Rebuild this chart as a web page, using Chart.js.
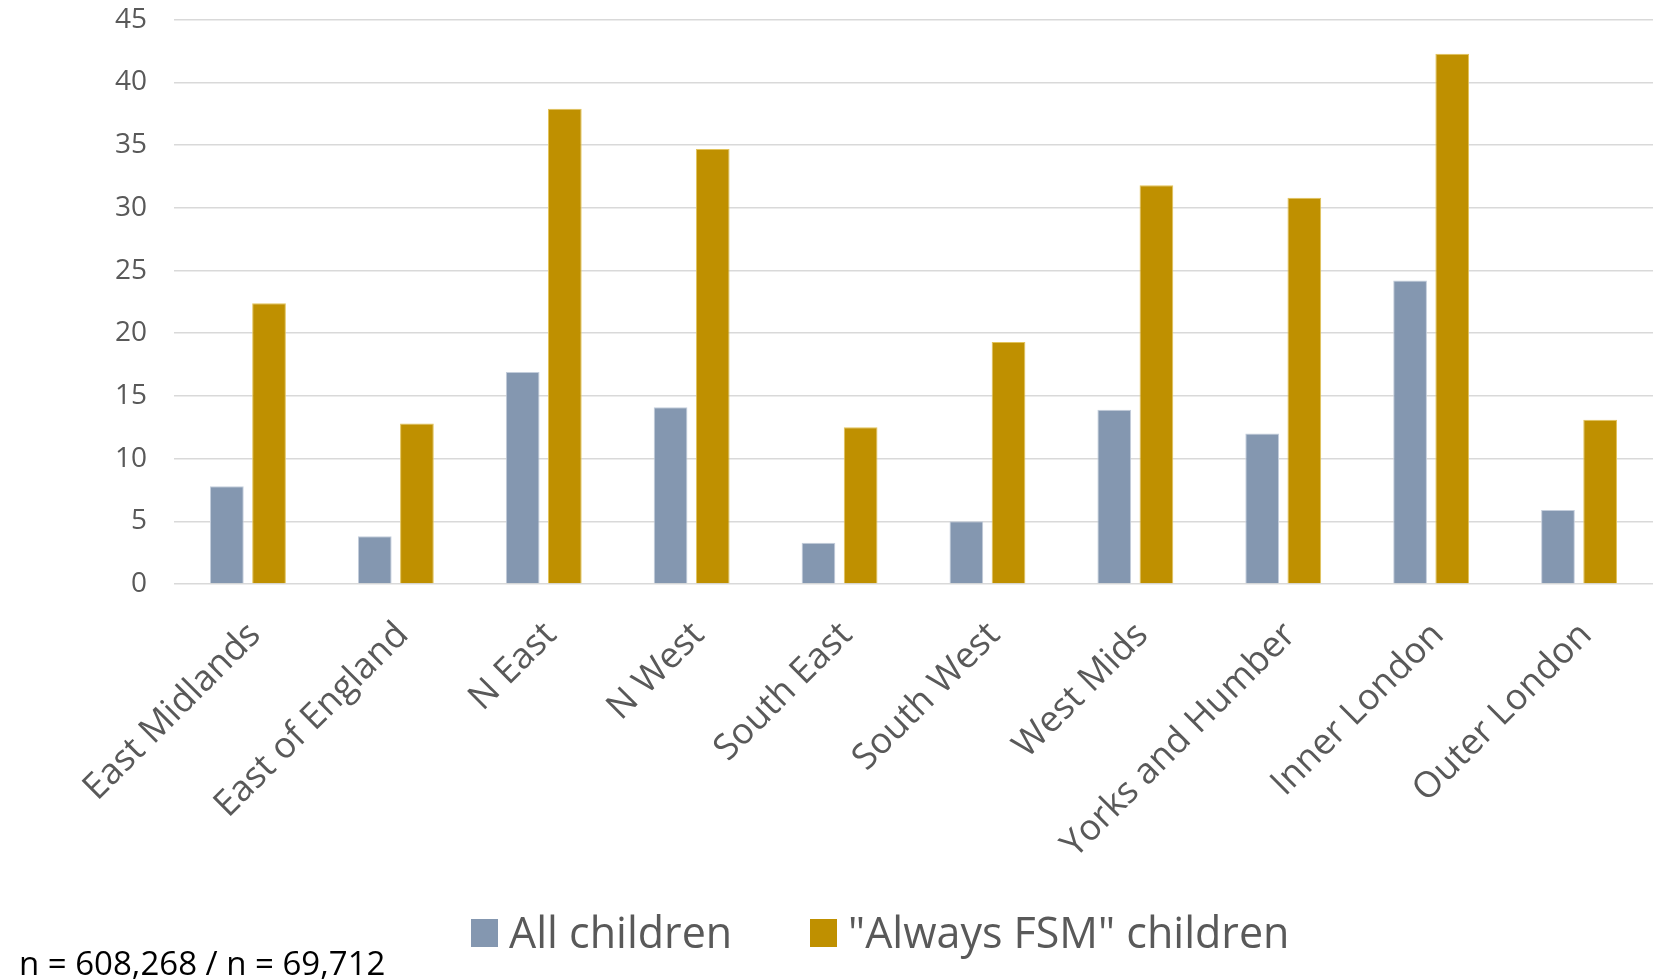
<!DOCTYPE html>
<html>
<head>
<meta charset="utf-8">
<script src="https://cdn.jsdelivr.net/npm/chart.js@4.4.1/dist/chart.umd.min.js"></script>
<style>
  html, body { margin: 0; padding: 0; background: #ffffff; }
  #wrap { width: 1653px; height: 980px; position: relative; }
</style>
</head>
<body>
<div id="wrap"><canvas id="chart" width="1653" height="980"></canvas></div>
<script>
// Regions of England
const regions = [
  'East Midlands', 'East of England', 'N East', 'N West', 'South East',
  'South West', 'West Mids', 'Yorks and Humber', 'Inner London', 'Outer London'
];

// Percentages per region
const allChildren = [7.8, 3.8, 16.9, 14.1, 3.3, 5.0, 13.9, 12.0, 24.2, 5.9];
const alwaysFsm   = [22.4, 12.8, 37.9, 34.7, 12.5, 19.3, 31.8, 30.8, 42.3, 13.1];

// Value axis
const yMin = 0;
const yMax = 45;
const yStep = 5;

const seriesNames = ['All children', '"Always FSM" children'];
const sampleNote = 'n = 608,268 / n = 69,712';

const FONT = "'Open Sans', 'DejaVu Sans', sans-serif";
const GREY_TEXT = '#595959';

// Legend and sample-size note drawn under the axis labels
const bottomNotes = {
  id: 'bottomNotes',
  afterDraw(chart) {
    const ctx = chart.ctx;
    ctx.save();
    const legendX = [471, 810];
    const boxSize = 27;
    const baseY = 948;
    ctx.font = '43px ' + FONT;
    ctx.textBaseline = 'alphabetic';
    ctx.textAlign = 'left';
    chart.data.datasets.forEach((ds, i) => {
      ctx.fillStyle = ds.backgroundColor;
      ctx.fillRect(legendX[i], baseY - 29, boxSize, 28);
      ctx.fillStyle = GREY_TEXT;
      ctx.fillText(ds.label, legendX[i] + 38, baseY);
    });
    ctx.font = '33px ' + FONT;
    ctx.fillStyle = '#000000';
    ctx.fillText(sampleNote, 19, 975);
    ctx.restore();
  }
};

new Chart(document.getElementById('chart'), {
  type: 'bar',
  data: {
    labels: regions,
    datasets: [
      {
        label: seriesNames[0],
        data: allChildren,
        backgroundColor: '#8497b0',
        borderColor: '#c3cddb',
        borderWidth: 1
      },
      {
        label: seriesNames[1],
        data: alwaysFsm,
        backgroundColor: '#bf9000',
        borderColor: '#e2c35a',
        borderWidth: 1
      }
    ]
  },
  options: {
    responsive: false,
    animation: false,
    devicePixelRatio: 1,
    layout: { padding: { top: 0, left: 0, right: 0, bottom: 0 } },
    datasets: {
      bar: { categoryPercentage: 0.57, barPercentage: 0.80 }
    },
    plugins: {
      legend: { display: false },
      tooltip: { enabled: false },
      title: { display: false }
    },
    scales: {
      x: {
        grid: { display: false, drawTicks: false },
        border: { display: false },
        ticks: {
          autoSkip: false,
          minRotation: 45,
          maxRotation: 45,
          padding: 30,
          labelOffset: 7,
          color: GREY_TEXT,
          font: { family: FONT, size: 36 }
        },
        afterFit(scale) { scale.height = 396; }
      },
      y: {
        min: yMin,
        max: yMax,
        grid: {
          color: '#d9d9d9',
          lineWidth: 1.5,
          drawTicks: true,
          tickLength: 24,
          tickColor: 'rgba(0,0,0,0)'
        },
        border: { display: false },
        ticks: {
          stepSize: yStep,
          padding: 3,
          color: GREY_TEXT,
          font: { family: FONT, size: 28 }
        },
        afterFit(scale) { scale.width = 174; }
      }
    }
  },
  plugins: [bottomNotes]
});
</script>
</body>
</html>
